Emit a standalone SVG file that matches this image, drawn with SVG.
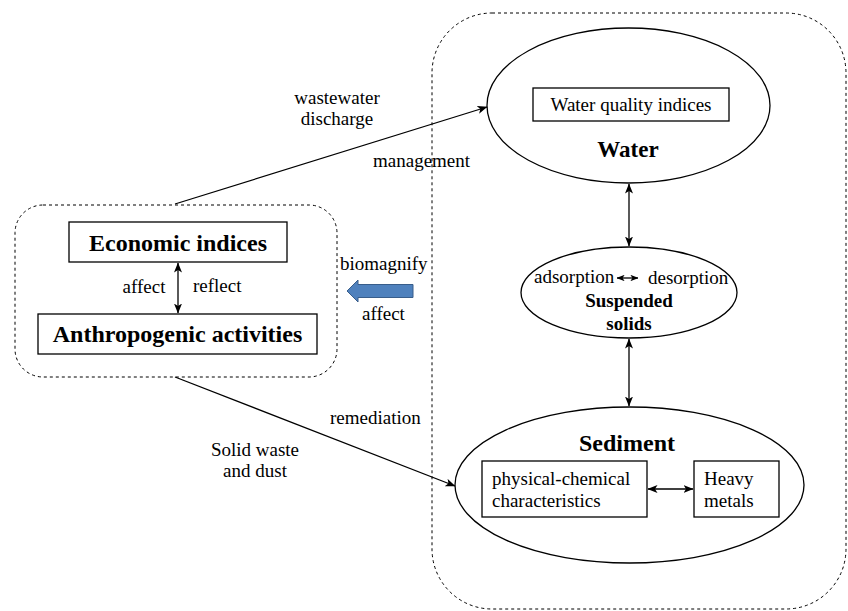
<svg xmlns="http://www.w3.org/2000/svg" width="848" height="611" viewBox="0 0 848 611" font-family="Liberation Serif, Times New Roman, serif">
<defs>
<marker id="ah" viewBox="0 0 10 8" refX="9.5" refY="4" markerWidth="10" markerHeight="8" markerUnits="userSpaceOnUse" orient="auto-start-reverse">
<path d="M0,0 L10,4 L0,8 L2.5,4 z" fill="#000"/>
</marker>
<marker id="ahs" viewBox="0 0 10 8" refX="9.5" refY="4" markerWidth="8" markerHeight="6.4" markerUnits="userSpaceOnUse" orient="auto-start-reverse">
<path d="M0,0 L10,4 L0,8 L2.5,4 z" fill="#000"/>
</marker>
</defs>
<style>
.t{font-size:19px;fill:#000}
.b{font-weight:bold;fill:#000}
.dash{fill:none;stroke:#000;stroke-width:1;stroke-dasharray:3,3}
.box{fill:#fff;stroke:#000;stroke-width:1.3}
.ell{fill:#fff;stroke:#000;stroke-width:1.3}
.ln{fill:none;stroke:#000;stroke-width:1.3}
</style>
<rect width="848" height="611" fill="#fff"/>

<g id="system-container">
<rect class="dash" x="432" y="13" width="414" height="596" rx="60" ry="60"/>
</g>
<g id="human-container">
<rect class="dash" x="15" y="205" width="322" height="172" rx="28" ry="28"/>
</g>

<g id="water">
<ellipse class="ell" cx="628.5" cy="105.5" rx="141.5" ry="77.5"/>
<rect class="box" x="533" y="88" width="196" height="33"/>
<text class="t" x="631" y="111" text-anchor="middle">Water quality indices</text>
<text class="b" x="628" y="157" font-size="23" text-anchor="middle">Water</text>
</g>

<g id="suspended-solids">
<ellipse class="ell" cx="629" cy="292.5" rx="108" ry="45.5"/>
<text class="t" x="534" y="283">adsorption</text>
<text class="t" x="648" y="284">desorption</text>
<text class="b" x="629" y="307" font-size="19" text-anchor="middle">Suspended</text>
<text class="b" x="629" y="330" font-size="19" text-anchor="middle">solids</text>
</g>

<g id="sediment">
<ellipse class="ell" cx="629.5" cy="485" rx="174.5" ry="78"/>
<text class="b" x="627" y="451" font-size="24" text-anchor="middle">Sediment</text>
<rect class="box" x="482" y="461" width="165" height="56"/>
<text class="t" x="492" y="485">physical-chemical</text>
<text class="t" x="492" y="507">characteristics</text>
<rect class="box" x="694" y="461" width="85" height="56"/>
<text class="t" x="704" y="485">Heavy</text>
<text class="t" x="704" y="507">metals</text>
</g>

<g id="economic-indices">
<rect class="box" x="69" y="222" width="218" height="40"/>
<text class="b" x="178" y="251" font-size="24" text-anchor="middle">Economic indices</text>
</g>

<g id="anthropogenic-activities">
<rect class="box" x="38" y="314" width="279" height="40"/>
<text class="b" x="177.5" y="342" font-size="24" text-anchor="middle">Anthropogenic activities</text>
</g>

<g id="connectors">
<line class="ln" x1="178" y1="263" x2="178" y2="313" stroke="#333" marker-start="url(#ah)" marker-end="url(#ah)"/>
<line class="ln" x1="629" y1="184" x2="629" y2="246" marker-start="url(#ah)" marker-end="url(#ah)"/>
<line class="ln" x1="629" y1="339" x2="629" y2="406" marker-start="url(#ah)" marker-end="url(#ah)"/>
<line class="ln" x1="648" y1="489" x2="693" y2="489" marker-start="url(#ah)" marker-end="url(#ah)"/>
<line class="ln" x1="617" y1="278" x2="638" y2="278" stroke-width="1.2" marker-start="url(#ahs)" marker-end="url(#ahs)"/>
<line class="ln" x1="175" y1="204" x2="487" y2="107" marker-end="url(#ah)"/>
<line class="ln" x1="175" y1="377" x2="455" y2="486" marker-end="url(#ah)"/>
<path d="M347,291 L358,280 L358,284.5 L413,284.5 L413,297.5 L358,297.5 L358,302 Z" fill="#4F81BD" stroke="#385D8A" stroke-width="1"/>
</g>

<g id="labels">
<text class="t" x="337" y="104" text-anchor="middle">wastewater</text>
<text class="t" x="337" y="125" text-anchor="middle">discharge</text>
<text class="t" x="373" y="167">management</text>
<text class="t" x="330" y="424">remediation</text>
<text class="t" x="255" y="456" text-anchor="middle">Solid waste</text>
<text class="t" x="255" y="477" text-anchor="middle">and dust</text>
<text class="t" x="144" y="293" text-anchor="middle">affect</text>
<text class="t" x="193" y="292">reflect</text>
<text class="t" x="340" y="270">biomagnify</text>
<text class="t" x="362" y="320">affect</text>
</g>
</svg>
